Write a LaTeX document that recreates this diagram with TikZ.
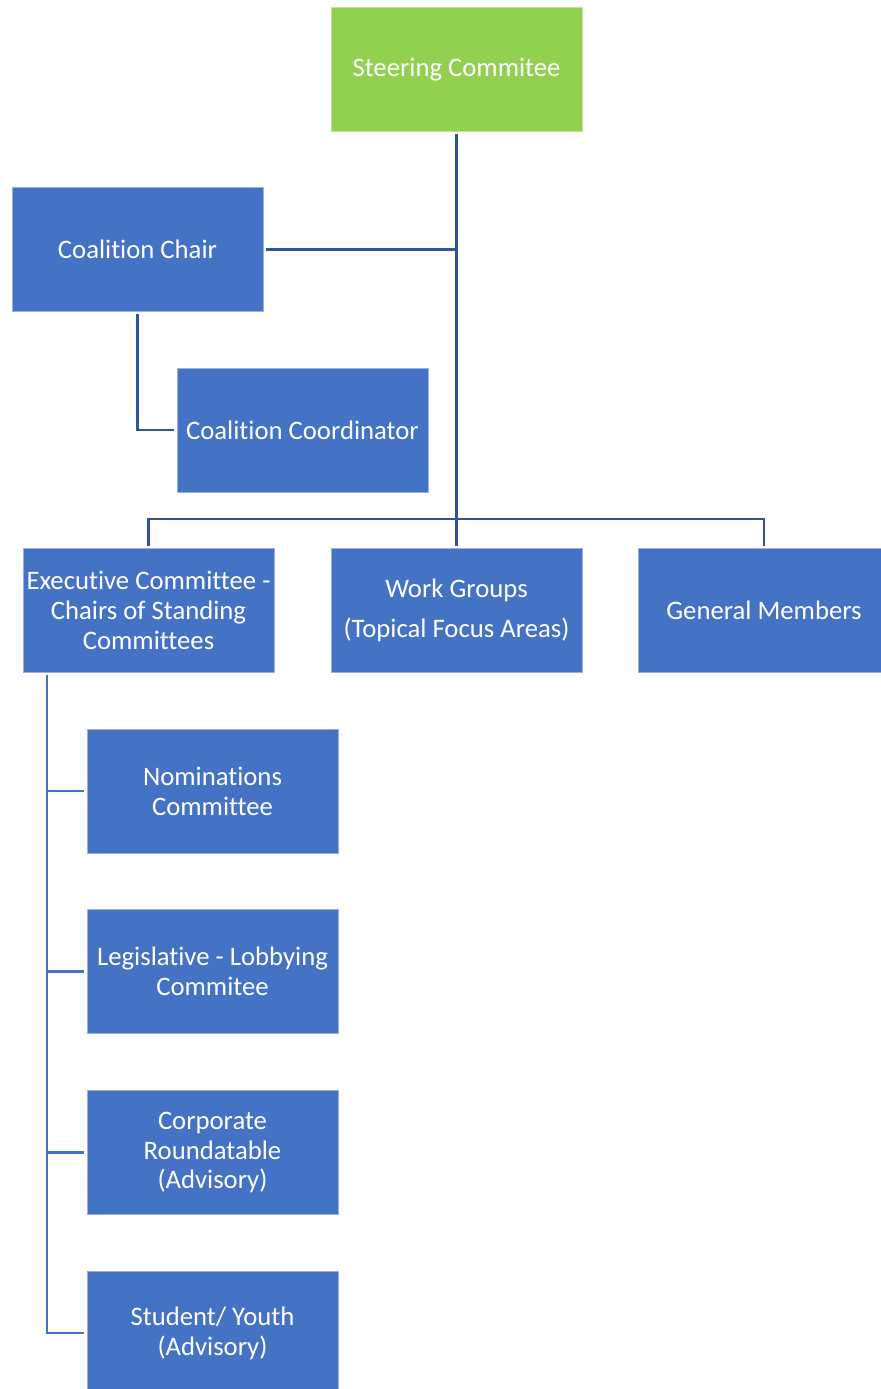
\documentclass[tikz,border=0pt]{standalone}
\usepackage{fontspec}
\setmainfont{Carlito}[Ligatures={NoCommon}]
\usetikzlibrary{positioning}
\definecolor{boxblue}{HTML}{4472C4}
\definecolor{boxgreen}{HTML}{92D050}
\definecolor{linkblue}{HTML}{2F5597}

\begin{document}
\begin{tikzpicture}[x=0.02cm, y=-0.02cm]
    \tikzset{
        n/.style        =   { rectangle
                            , fill=boxblue
                            , draw=boxblue!55!white
                            , line width=0.5pt
                            , text=white
                            , align=center
                            , minimum width=5.02cm
                            , minimum height=2.48cm
                            , inner sep=0pt
                            , outer sep=1.6pt
                            , font=\fontsize{15.2}{17}\selectfont
        }
        , top/.style    =   { n
                            , fill=boxgreen
                            , draw=boxgreen!60!white
        }
        , link/.style   =   { draw=linkblue
                            , line width=1.4pt
        }
        , sublink/.style =  { draw=boxblue
                            , line width=1.4pt
        }
    }
    \useasboundingbox (0,0) rectangle (880,1389);

    \node(steer)[top]   at (456.5,69.5)  {Steering Commitee};
    \node(chair)[n]     at (137.5,249.5) {Coalition Chair};
    \node(coord)[n]     at (302.5,430)   {Coalition Coordinator};
    \node(exec)[n]      at (148.5,610.5) {Executive Committee -\\Chairs of Standing\\Committees};
    \node(work)[n]      at (456.5,610.5) {Work Groups\\[6pt](Topical Focus Areas)};
    \node(general)[n]   at (764,610.5)   {General Members};
    \node(nom)[n]       at (212.5,791)   {Nominations\\Committee};
    \node(leg)[n]       at (212.5,971.5) {Legislative - Lobbying\\Commitee};
    \node(corp)[n]      at (212.5,1152.5) {Corporate\\Roundatable\\(Advisory)};
    \node(stud)[n]      at (212.5,1333)  {Student/ Youth\\(Advisory)};

    \coordinate(bus)    at (456.5,519);
    \coordinate(trunk)  at (47,675);

    \draw[link] (steer.south) -- (work.north);
    \draw[link] (chair.east) -- (chair.east -| steer.south);
    \draw[link] (chair.south) |- (coord.west);
    \draw[link] (exec.north) |- (bus) -| (general.north);

    \draw[sublink] (trunk) |- (stud.west);
    \foreach \k in {nom, leg, corp}
        \draw[sublink] (trunk |- \k.west) -- (\k.west);
\end{tikzpicture}
\end{document}
